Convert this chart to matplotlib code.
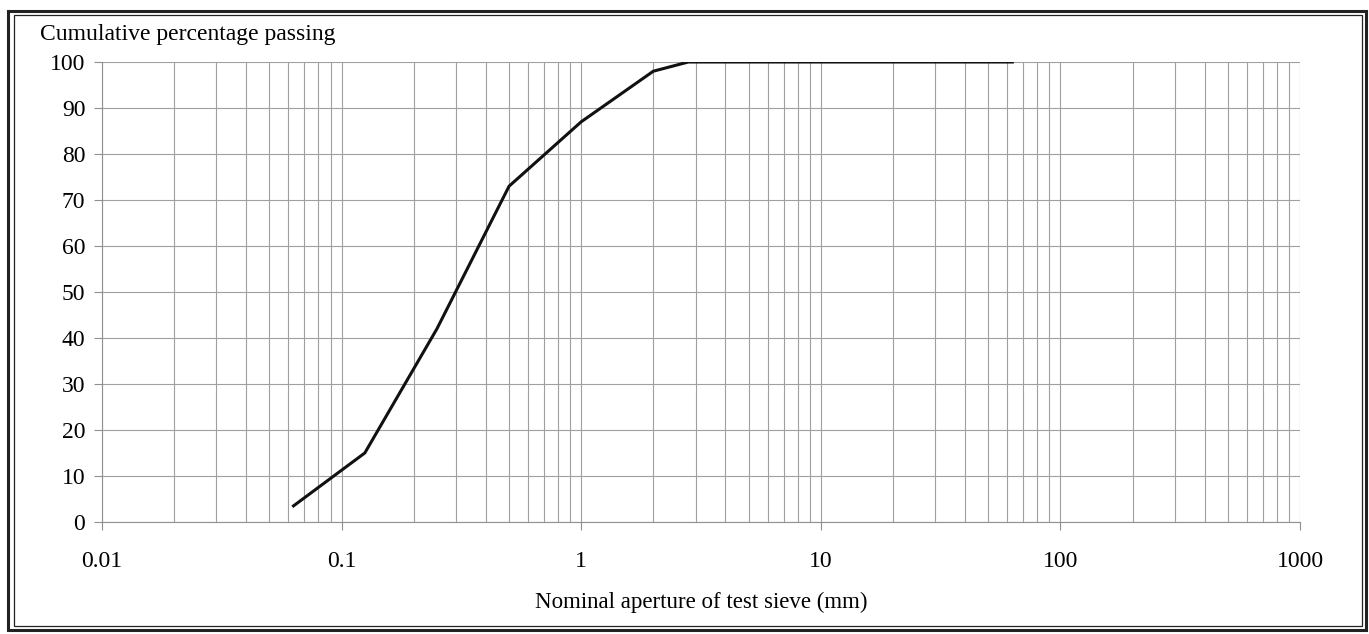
import matplotlib
matplotlib.use("Agg")
import matplotlib.pyplot as plt
from matplotlib.patches import Rectangle
from matplotlib.ticker import LogLocator, FixedLocator, NullFormatter

plt.rcParams['font.family'] = ['Liberation Serif', 'DejaVu Serif']

# sieve sizes (mm) and cumulative % passing
sieve_mm = [0.063, 0.125, 0.25, 0.5, 1, 2, 2.8, 4, 8, 16, 31.5, 63]
passing = [3.5, 15, 42, 73, 87, 98, 100, 100, 100, 100, 100, 100]

x_ticks = [0.01, 0.1, 1, 10, 100, 1000]
x_labels = ['0.01', '0.1', '1', '10', '100', '1000']
y_ticks = list(range(0, 101, 10))

fig = plt.figure(figsize=(13.69, 6.34), dpi=100)
ax = fig.add_axes([0.0745, 0.1767, 0.8751, 0.7255])

ax.plot(sieve_mm, passing, color='#111111', linewidth=2.2, zorder=3)

ax.set_xscale('log')
ax.set_xlim(0.01, 1000)
ax.set_ylim(0, 100)
ax.xaxis.set_major_locator(FixedLocator(x_ticks))
ax.set_xticklabels(x_labels)
ax.xaxis.set_minor_locator(LogLocator(base=10, subs=range(2, 10)))
ax.xaxis.set_minor_formatter(NullFormatter())
ax.set_yticks(y_ticks)

ax.grid(True, which='both', axis='x', color='#a0a0a0', linewidth=0.8)
ax.grid(True, which='major', axis='y', color='#a0a0a0', linewidth=0.8)

for side in ['top', 'right']:
    ax.spines[side].set_visible(False)
for side in ['left', 'bottom']:
    ax.spines[side].set_color('#909090')
    ax.spines[side].set_linewidth(0.8)

ax.tick_params(axis='both', which='major', labelsize=17, color='#909090',
               length=6, width=0.8)
ax.tick_params(axis='x', which='minor', length=0)
ax.tick_params(axis='x', pad=15)
ax.tick_params(axis='y', pad=6)

ax.set_xlabel('Nominal aperture of test sieve (mm)', fontsize=16.5, labelpad=14)
fig.text(0.029, 0.946, 'Cumulative percentage passing', fontsize=17,
         ha='left', va='center')

# double border around the figure
fig.patches.append(Rectangle((0.0062, 0.0063), 0.9916, 0.9771, transform=fig.transFigure,
                             fill=False, edgecolor='#222222', linewidth=2.2))
fig.patches.append(Rectangle((0.0099, 0.0126), 0.985, 0.9645, transform=fig.transFigure,
                             fill=False, edgecolor='#222222', linewidth=0.9))

fig.savefig('out.png', dpi=100)
